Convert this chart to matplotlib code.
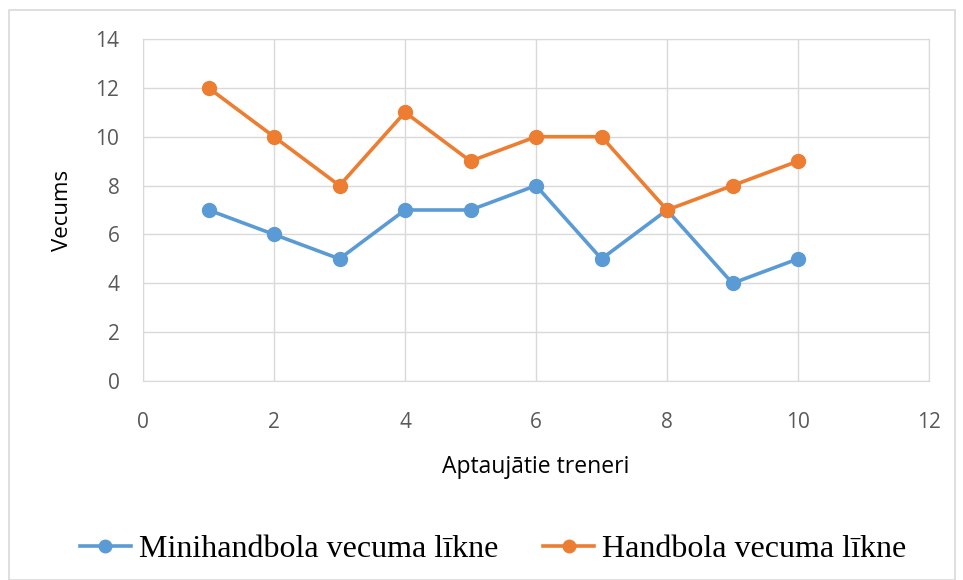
import matplotlib
matplotlib.use("Agg")
import matplotlib.pyplot as plt
from matplotlib.patches import Rectangle

x_vals = [1, 2, 3, 4, 5, 6, 7, 8, 9, 10]
mini = [7, 6, 5, 7, 7, 8, 5, 7, 4, 5]
hand = [12, 10, 8, 11, 9, 10, 10, 7, 8, 9]
series_names = ["Minihandbola vecuma līkne", "Handbola vecuma līkne"]
x_label = "Aptaujātie treneri"
y_label = "Vecums"

fig = plt.figure(figsize=(9.63, 5.8), dpi=100)
fig.patches.append(Rectangle((9/963, 0.0), 946/963, 1 - 10/580, transform=fig.transFigure,
                             fill=False, edgecolor="#D9D9D9", linewidth=1.2))
ax = fig.add_axes([143/963, 1 - 381/580, (929 - 143)/963, (381 - 39)/580])

blue = "#5B9BD5"
orange = "#ED7D31"
ax.plot(x_vals, mini, color=blue, lw=2.6, marker="o", ms=10, label=series_names[0], zorder=3)
ax.plot(x_vals, hand, color=orange, lw=2.6, marker="o", ms=10, label=series_names[1], zorder=4)

ax.set_xlim(0, 12)
ax.set_ylim(0, 14)
ax.set_xticks(range(0, 13, 2))
ax.set_yticks(range(0, 15, 2))
ax.grid(True, color="#D9D9D9", lw=1)
ax.set_axisbelow(True)
for s in ax.spines.values():
    s.set_color("#D9D9D9")
ax.tick_params(length=0, colors="#595959", labelsize=15)
ax.tick_params(axis="x", pad=22)
ax.tick_params(axis="y", pad=17)
for lab in ax.get_xticklabels() + ax.get_yticklabels():
    lab.set_family("Open Sans")

ax.set_xlabel(x_label, fontsize=16.5, family="Open Sans", color="black", labelpad=16)
ax.set_ylabel(y_label, fontsize=16, family="Open Sans", color="black", labelpad=16)

leg = fig.legend(loc="center", bbox_to_anchor=(0.512, 1 - 549/580), ncol=2, frameon=False,
                 prop={"family": "Liberation Serif", "size": 23}, handlelength=1.6,
                 handletextpad=0.25, columnspacing=1.4)
for h in leg.legend_handles:
    h.set_markersize(9)

fig.savefig("out.png", dpi=100)
